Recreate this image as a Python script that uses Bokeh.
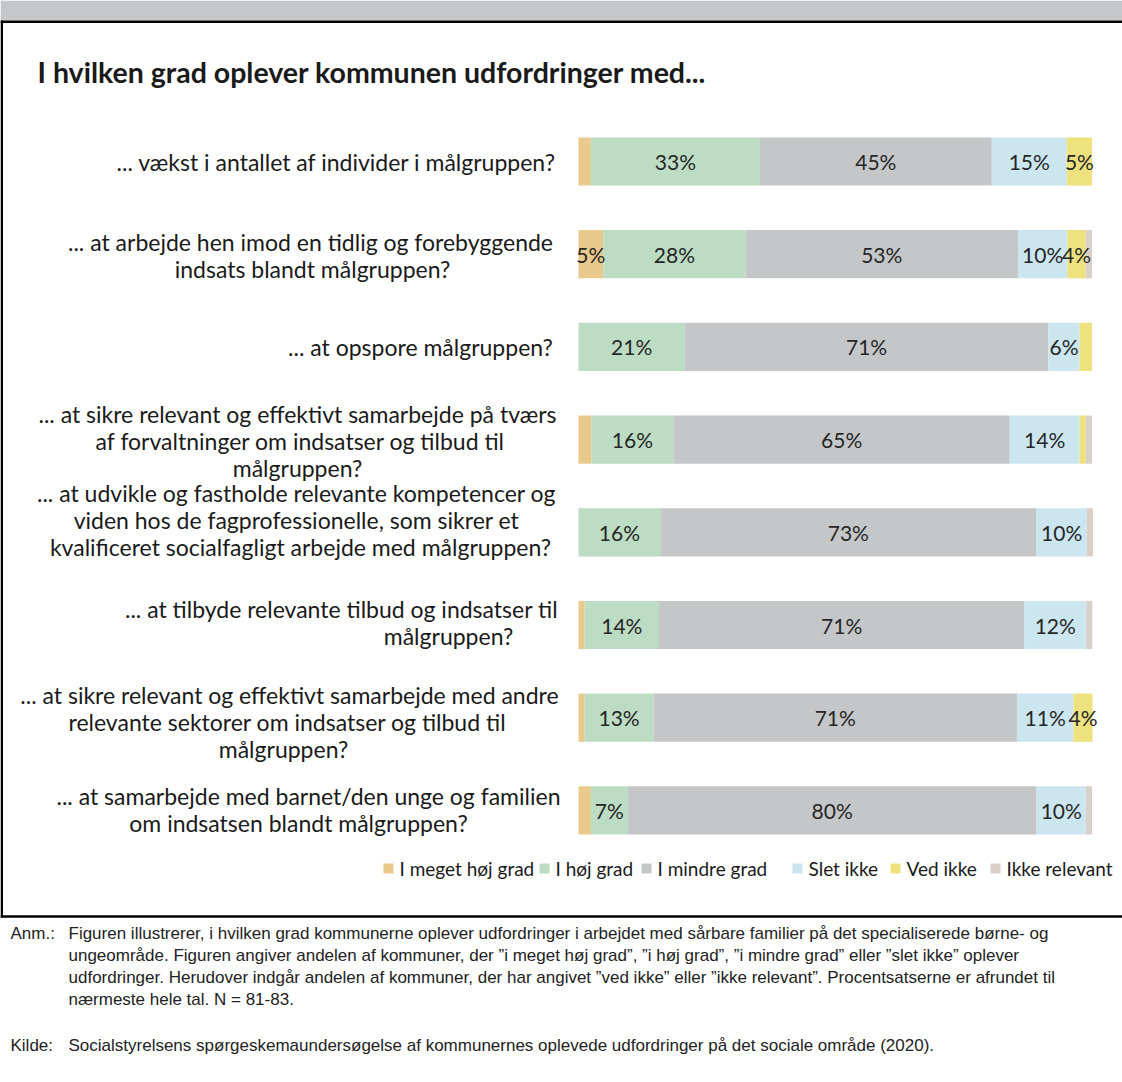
from bokeh.plotting import figure
from bokeh.models import Range1d, ColumnDataSource
from bokeh.core.properties import value
from bokeh.embed import file_html
from bokeh.resources import INLINE

# ---------------- data ----------------
title = "I hvilken grad oplever kommunen udfordringer med..."

categories = [
    "vaekst", "forebyggende", "opspore", "samarbejde_forvaltninger",
    "kompetencer", "tilbud", "samarbejde_sektorer", "familien",
]
category_labels = [
    ["... vækst i antallet af individer i målgruppen?"],
    ["... at arbejde hen imod en tidlig og forebyggende",
     "indsats blandt målgruppen?"],
    ["... at opspore målgruppen?"],
    ["... at sikre relevant og effektivt samarbejde på tværs",
     "af forvaltninger om indsatser og tilbud til",
     "målgruppen?"],
    ["... at udvikle og fastholde relevante kompetencer og",
     "viden hos de fagprofessionelle, som sikrer et",
     "kvalificeret socialfagligt arbejde med målgruppen?"],
    ["... at tilbyde relevante tilbud og indsatser til",
     "målgruppen?"],
    ["... at sikre relevant og effektivt samarbejde med andre",
     "relevante sektorer om indsatser og tilbud til",
     "målgruppen?"],
    ["... at samarbejde med barnet/den unge og familien",
     "om indsatsen blandt målgruppen?"],
]

series_names = ["I meget høj grad", "I høj grad", "I mindre grad",
                "Slet ikke", "Ved ikke", "Ikke relevant"]
i_meget_hoej_grad = [2.4, 4.8, 0.0, 2.5, 0.0, 1.2, 1.2, 2.4]
i_hoej_grad       = [32.9, 27.7, 20.7, 16.0, 15.9, 14.46, 13.4, 7.2]
i_mindre_grad     = [45.1, 53.0, 70.7, 65.4, 73.2, 71.1, 70.7, 79.52]
slet_ikke         = [14.6, 9.6, 6.1, 13.6, 9.8, 12.0, 11.0, 9.6]
ved_ikke          = [4.9, 3.6, 2.4, 1.2, 0.0, 0.0, 3.7, 0.0]
ikke_relevant     = [0.0, 1.2, 0.0, 1.2, 1.2, 1.2, 0.0, 1.2]
series_values = [i_meget_hoej_grad, i_hoej_grad, i_mindre_grad,
                 slet_ikke, ved_ikke, ikke_relevant]
colors = ["#e9ca8c", "#bcdcc3", "#c4c6c8", "#cce6f0", "#eee27f", "#d9d0ca"]

note_label = "Anm.:"
note_lines = [
    "Figuren illustrerer, i hvilken grad kommunerne oplever udfordringer i arbejdet med sårbare familier på det specialiserede børne- og",
    "ungeområde. Figuren angiver andelen af kommuner, der ”i meget høj grad”, ”i høj grad”, ”i mindre grad” eller ”slet ikke” oplever",
    "udfordringer. Herudover indgår andelen af kommuner, der har angivet ”ved ikke” eller ”ikke relevant”. Procentsatserne er afrundet til",
    "nærmeste hele tal. N = 81-83.",
]
source_label = "Kilde:"
source_text = "Socialstyrelsens spørgeskemaundersøgelse af kommunernes oplevede udfordringer på det sociale område (2020)."

# ---------------- layout (pixel geometry of the page) ----------------
W, H = 1122, 1082
BX0, BX1 = 578, 1092          # bar area, 0..100 %
PPU = (BX1 - BX0) / 100.0
ROW0, ROWSTEP = 161.0, 92.7   # centre of first row, row spacing


def xd(px):
    return (px - BX0) / PPU


def yd(py):
    return (py - ROW0) / ROWSTEP


p = figure(width=W, height=H, output_backend="svg", toolbar_location=None,
           x_range=Range1d(xd(0), xd(W)), y_range=Range1d(yd(H), yd(0)),
           min_border=0, min_border_left=0, min_border_right=0,
           min_border_top=0, min_border_bottom=0)
p.axis.visible = False
p.grid.visible = False
p.outline_line_color = None
p.background_fill_color = "white"
p.border_fill_color = "white"

# frame decoration: header band, borders, separator
SEP = 916
p.quad(left=[xd(0)], right=[xd(W)], top=[yd(0)], bottom=[yd(20)],
       fill_color="#c6c7c9", line_color=None)
p.quad(left=[xd(0), xd(0), xd(0)], right=[xd(W), xd(2.5), xd(W)],
       top=[yd(20), yd(20), yd(SEP - 1.2)], bottom=[yd(22.5), yd(SEP + 1), yd(SEP + 1.3)],
       fill_color="black", line_color=None)

# title
p.text(x=[xd(37)], y=[yd(71)], text=[title], text_font=value("Lato"),
       text_font_size="28.5px", text_font_style="bold", text_color="#1a1a1a",
       text_align="left", text_baseline="middle")

# stacked bars
n = len(categories)
data = {"y": list(range(n))}
keys = ["s%d" % k for k in range(len(series_names))]
for k, vals in zip(keys, series_values):
    data[k] = vals
src = ColumnDataSource(data)
p.hbar_stack(keys, y="y", height=0.52, color=colors, line_color=None, source=src)

# value labels
lx, ly, lt = [], [], []
for i in range(n):
    start = 0.0
    for vals in series_values:
        v = vals[i]
        if v >= 3:
            lx.append(start + v / 2.0)
            ly.append(i)
            lt.append("%d%%" % int(v + 0.5))
        start += v
p.text(x=lx, y=ly, text=lt, text_font=value("Lato"), text_font_size="21px",
       text_color="#262626", text_align="center", text_baseline="middle")

# category labels (centre of each wrapped line, px; vertical offsets, px)
label_cx = [[336], [310, 312], [420], [297, 300, 297], [296, 296, 300],
            [341, 448], [289, 287, 283], [308, 298]]
label_shift = [0, 1, 0, 1, -12, -3, 4, -1]
cx, cy, ct, co = [], [], [], []
for i, lines in enumerate(category_labels):
    m = len(lines)
    for j, line in enumerate(lines):
        cx.append(xd(label_cx[i][j]))
        cy.append(i)
        ct.append(line)
        co.append((j - (m - 1) / 2.0) * 27 + label_shift[i])
p.text(x=cx, y=cy, text=ct, y_offset=co, text_font=value("Lato"),
       text_font_size="23px", text_color="#1a1a1a", text_align="center",
       text_baseline="middle")

# legend
legend_px = [383, 539, 641, 792, 890, 990]
legend_y = yd(868)
p.scatter(x=[xd(v + 5) for v in legend_px], y=[legend_y] * 6, marker="square",
          size=10, fill_color=colors, line_color=None)
p.text(x=[xd(v + 16) for v in legend_px], y=[legend_y] * 6, text=series_names,
       text_font=value("Lato"), text_font_size="19px", text_color="#1a1a1a",
       text_align="left", text_baseline="middle")

# notes
note_font = value("Liberation Sans")
note_size = "17px"
note_y = [933, 955, 977, 999]
p.text(x=[xd(10)], y=[yd(note_y[0])], text=[note_label],
       text_font=note_font, text_font_size=note_size,
       text_color="#222222", text_align="left", text_baseline="middle")
p.text(x=[xd(68)] * 4, y=[yd(v) for v in note_y], text=note_lines,
       text_font=note_font, text_font_size=note_size,
       text_color="#222222", text_align="left", text_baseline="middle")
p.text(x=[xd(10), xd(68)], y=[yd(1045)] * 2, text=[source_label, source_text],
       text_font=note_font, text_font_size=note_size,
       text_color="#222222", text_align="left", text_baseline="middle")

open("out.html", "w").write(file_html(p, INLINE))
